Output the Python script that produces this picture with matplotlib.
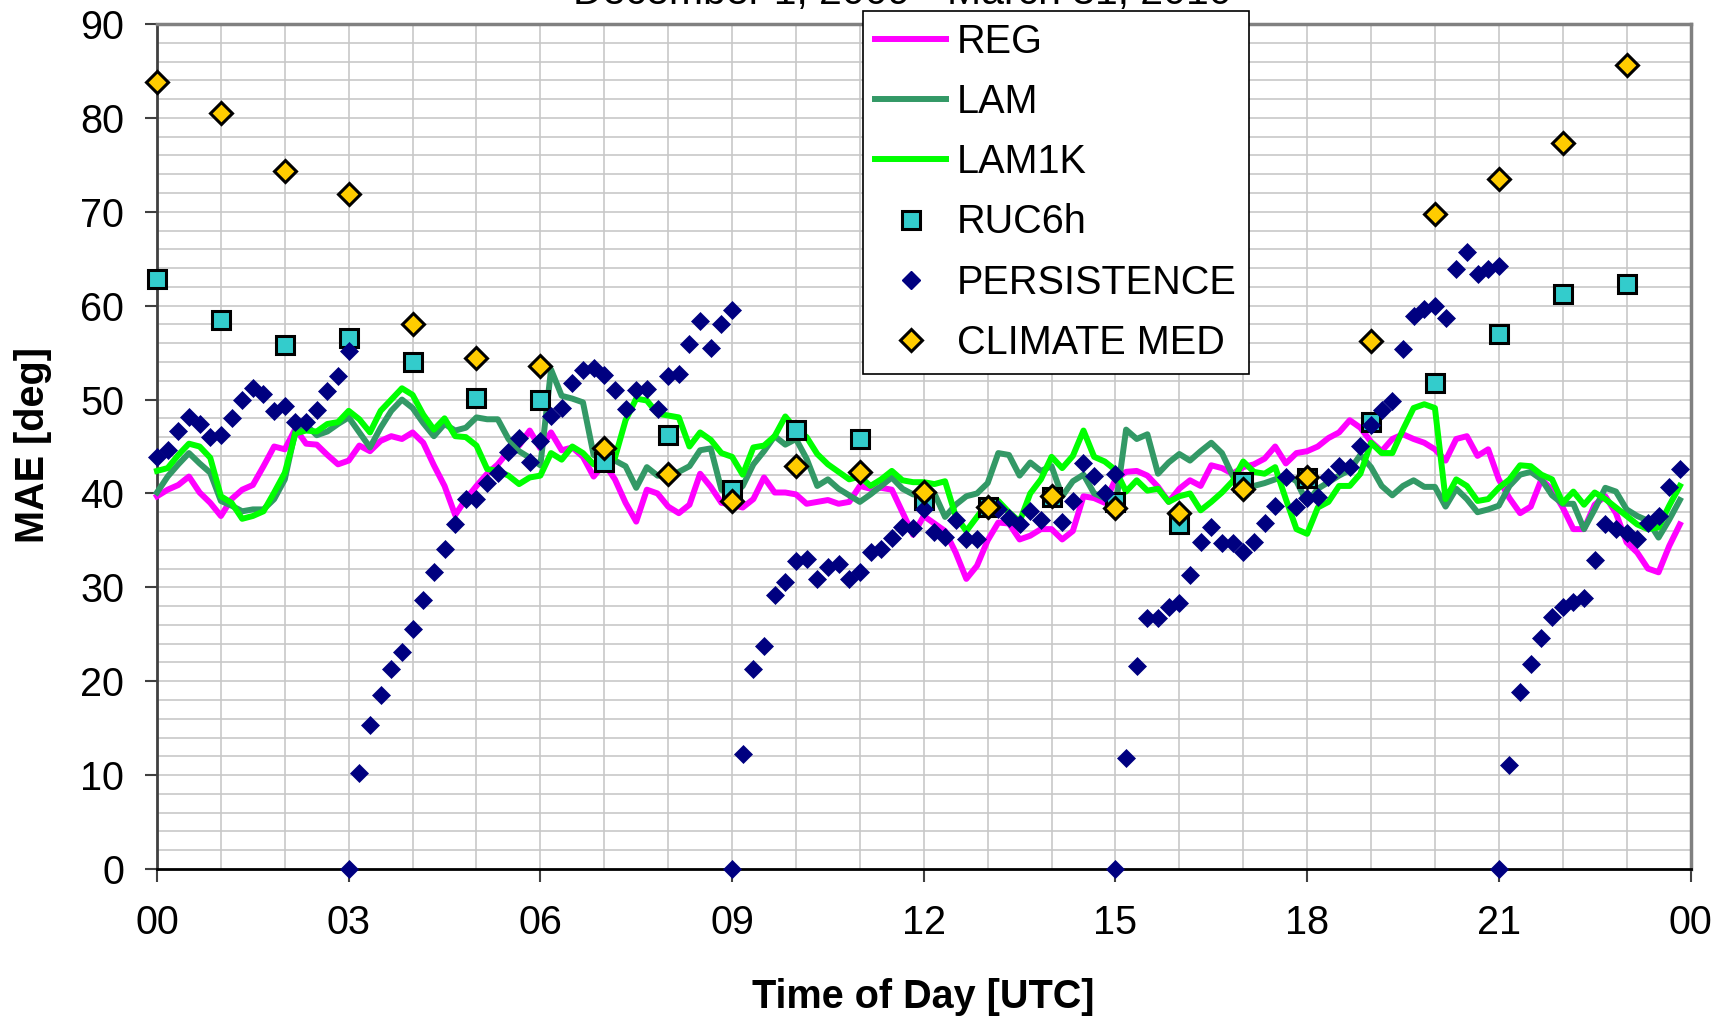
import numpy as np
import matplotlib
matplotlib.use("Agg")
import matplotlib.pyplot as plt
from matplotlib.lines import Line2D

plt.rcParams['font.family'] = ['Liberation Sans', 'DejaVu Sans']

# ---------------- data ----------------
title = "December 1, 2009 - March 31, 2010"
x_label = "Time of Day [UTC]"
y_label = "MAE [deg]"
x_tick_hours = [0, 3, 6, 9, 12, 15, 18, 21, 24]
x_tick_labels = ["00", "03", "06", "09", "12", "15", "18", "21", "00"]
y_ticks = [0, 10, 20, 30, 40, 50, 60, 70, 80, 90]

# 10-minute time steps 00:00 .. 23:50 (hours)
hours = np.arange(144) / 6.0

reg = [39.7, 40.4, 40.9, 41.8, 40.1, 39.0, 37.6, 39.4, 40.4, 40.9, 42.9, 45.0,
       44.7, 46.9, 45.3, 45.2, 44.1, 43.1, 43.5, 45.1, 44.5, 45.6, 46.1, 45.8,
       46.5, 45.4, 43.0, 40.8, 37.7, 39.4, 40.8, 42.1, 43.1, 44.5, 45.1, 46.7,
       44.8, 46.5, 44.6, 44.9, 43.9, 41.8, 43.2, 41.5, 39.0, 37.0, 40.4, 40.0,
       38.6, 37.9, 38.8, 42.1, 40.7, 39.0, 38.8, 38.5, 39.4, 41.7, 40.1, 40.1,
       39.9, 38.9, 39.1, 39.3, 38.9, 39.1, 40.8, 40.5, 40.6, 40.4, 38.0, 35.6,
       37.6, 36.8, 36.0, 33.7, 30.9, 32.3, 35.0, 36.9, 36.8, 35.1, 35.5, 36.2,
       36.2, 35.1, 36.0, 39.7, 39.5, 39.0, 41.5, 42.3, 42.4, 41.9, 40.7, 39.1,
       40.5, 41.4, 40.8, 43.0, 42.7, 42.1, 42.8, 43.1, 43.7, 45.0, 43.2, 44.3,
       44.5, 45.0, 45.9, 46.5, 47.8, 47.0, 45.5, 44.5, 45.8, 46.3, 45.8, 45.4,
       44.7, 43.5, 45.8, 46.1, 44.0, 44.7, 41.5, 39.5, 37.9, 38.6, 41.5, 40.4,
       38.5, 36.2, 36.2, 38.8, 39.7, 37.9, 34.8, 33.7, 32.0, 31.6, 34.4, 36.7]

lam = [40.1, 41.8, 43.1, 44.3, 43.2, 42.2, 39.2, 38.7, 38.1, 38.3, 38.3, 39.4,
       41.5, 46.7, 47.3, 46.2, 46.6, 47.4, 48.1, 46.5, 44.9, 47.0, 48.8, 50.0,
       49.1, 47.5, 46.1, 47.4, 46.7, 47.0, 48.1, 47.9, 47.9, 45.8, 44.5, 43.8,
       43.0, 53.2, 50.4, 50.1, 49.7, 44.1, 43.5, 43.5, 42.9, 40.6, 42.8, 41.9,
       41.9, 42.3, 42.9, 44.6, 44.8, 40.4, 39.7, 40.8, 43.1, 44.5, 46.1, 45.2,
       45.8, 43.7, 40.8, 41.5, 40.5, 39.8, 39.1, 39.9, 40.8, 41.7, 40.5, 39.9,
       39.8, 40.0, 37.5, 38.8, 39.7, 40.0, 41.1, 44.3, 44.1, 41.9, 43.3, 42.4,
       42.9, 39.7, 41.3, 42.0, 40.0, 39.5, 38.5, 46.8, 45.8, 46.3, 42.1, 43.3,
       44.2, 43.5, 44.5, 45.4, 44.3, 41.9, 40.8, 40.8, 41.1, 41.5, 42.0, 41.3,
       39.0, 40.5, 41.2, 41.9, 42.5, 44.1, 42.8, 40.8, 39.8, 40.8, 41.4, 40.7,
       40.7, 38.6, 40.5, 39.4, 38.0, 38.3, 38.7, 40.8, 42.0, 42.3, 41.5, 39.8,
       38.9, 38.9, 36.2, 38.3, 40.6, 40.2, 38.3, 37.6, 37.1, 35.3, 37.2, 39.3]

lam1k = [42.4, 42.7, 44.1, 45.3, 45.0, 43.8, 39.7, 39.0, 37.3, 37.6, 38.1, 40.1,
         42.2, 46.4, 46.7, 46.6, 47.4, 47.6, 48.8, 47.9, 46.5, 48.8, 50.0, 51.2,
         50.5, 48.4, 46.8, 48.0, 46.1, 46.0, 45.1, 42.6, 42.4, 41.9, 41.0, 41.7,
         41.9, 44.3, 43.6, 45.0, 44.3, 43.1, 43.3, 43.8, 47.8, 50.1, 49.9, 48.5,
         48.3, 48.1, 45.0, 46.5, 45.7, 44.3, 43.9, 42.0, 44.9, 45.1, 46.1, 48.2,
         46.8, 46.0, 44.2, 43.1, 42.3, 41.5, 41.8, 40.8, 41.5, 42.4, 41.4, 41.2,
         41.2, 41.0, 41.3, 37.6, 36.0, 37.5, 39.0, 39.2, 38.0, 37.0, 40.0, 41.5,
         43.9, 42.7, 44.0, 46.7, 43.9, 43.4, 42.5, 40.2, 41.4, 40.3, 40.5, 39.1,
         39.7, 40.0, 38.2, 39.1, 40.1, 41.3, 43.4, 42.3, 42.1, 42.8, 39.4, 36.2,
         35.7, 38.5, 39.1, 40.8, 40.8, 42.1, 45.4, 44.3, 44.3, 46.8, 49.1, 49.5,
         49.1, 39.4, 41.5, 40.8, 39.2, 39.4, 40.6, 41.5, 43.0, 42.9, 42.0, 41.5,
         39.0, 40.2, 38.8, 40.1, 39.4, 38.5, 37.6, 36.7, 36.2, 36.4, 38.7, 40.8]

persistence = [43.9, 44.6, 46.6, 48.1, 47.4, 46.0, 46.2, 48.0, 49.9, 51.2, 50.6, 48.8,
               49.3, 47.6, 47.6, 48.9, 50.9, 52.5,
               0.0, 10.2, 15.3, 18.5, 21.3, 23.1, 25.6, 28.6, 31.6, 34.1, 36.7, 39.4,
               39.4, 41.1, 42.2, 44.4, 45.9, 43.4, 45.6, 48.2, 49.1, 51.8, 53.2, 53.4,
               52.6, 51.0, 49.0, 51.0, 51.1, 49.0, 52.5, 52.7, 55.9, 58.4, 55.5, 58.0,
               0.0, 12.3, 21.3, 23.7, 29.2, 30.6, 32.8, 33.0, 30.9, 32.2, 32.5, 30.9,
               31.6, 33.8, 34.1, 35.3, 36.4, 36.3, 38.3, 35.9, 35.4, 37.2, 35.2, 35.2,
               38.3, 38.3, 37.4, 36.7, 38.1, 37.2, 39.5, 37.0, 39.2, 43.2, 41.9, 40.0,
               0.0, 11.8, 21.6, 26.7, 26.7, 27.9, 28.3, 31.3, 34.8, 36.4, 34.7, 34.7,
               33.8, 34.8, 36.9, 38.7, 41.7, 38.6, 39.5, 39.6, 41.7, 42.9, 42.8, 45.1,
               47.3, 48.9, 49.8, 55.4, 58.9, 59.6, 60.0, 58.7, 63.9, 65.7, 63.4, 63.9,
               0.0, 11.1, 18.9, 21.8, 24.6, 26.8, 27.9, 28.4, 28.9, 32.9, 36.7, 36.2,
               35.8, 35.1, 36.9, 37.6, 40.7, 42.6]
# last value of each 6-hour persistence cycle (plotted at the cycle end hour)
persistence_end_hours = [3, 9, 15, 21]
persistence_end_values = [55.2, 59.5, 42.1, 64.2]

# hourly values
hourly = np.arange(24)
ruc6h = [62.8, 58.5, 55.8, 56.6, 54.0, 50.2, 50.0, 43.3, 46.2, 40.4, 46.8, 45.8,
         39.3, 38.6, 39.6, 39.1, 36.7, 41.2, 41.6, 47.6, 51.8, 57.0, 61.2, 62.3]
climate_med = [83.8, 80.5, 74.3, 71.9, 58.1, 54.4, 53.6, 44.8, 42.1, 39.2, 42.9, 42.3,
               40.2, 38.6, 39.7, 38.4, 37.9, 40.5, 41.8, 56.2, 69.8, 73.5, 77.3, 85.6]

# ---------------- styles ----------------
c_reg = '#FF00FF'
c_lam = '#339966'
c_lam1k = '#00FF00'
c_ruc = '#33CCCC'
c_pers = '#000080'
c_clim = '#FFCC00'
FS = 28.5

fig = plt.figure(figsize=(17.24, 10.21), dpi=100)
ax = fig.add_axes([0.09107, 0.14887, 0.8895, 0.82762])

ax.set_xlim(0, 24)
ax.set_ylim(0, 90)

# grid
for h in range(1, 24):
    ax.axvline(h, color='#C8C8C8', lw=1.2, zorder=0)
for v in range(2, 90, 2):
    ax.axhline(v, color='#C8C8C8', lw=1.2, zorder=0)

lw = 4.3
ms_ruc = 13.5
ms_pers = 9.0
ms_clim = 11.5
ax.plot(hours, reg, color=c_reg, lw=lw, zorder=3, clip_on=False, solid_joinstyle='round')
ax.plot(hours, lam, color=c_lam, lw=lw, zorder=4, clip_on=False, solid_joinstyle='round')
ax.plot(hours, lam1k, color=c_lam1k, lw=lw, zorder=5, clip_on=False, solid_joinstyle='round')
ax.plot(hourly, ruc6h, ls='none', marker='s', ms=ms_ruc, mfc=c_ruc, mec='black', mew=2.2,
        zorder=6, clip_on=False)
ax.plot(hours, persistence, ls='none', marker='D', ms=ms_pers, mfc=c_pers, mec=c_pers, mew=0.5,
        zorder=7, clip_on=False)
ax.plot(persistence_end_hours, persistence_end_values, ls='none', marker='D', ms=ms_pers,
        mfc=c_pers, mec=c_pers, mew=0.5, zorder=7, clip_on=False)
ax.plot(hourly, climate_med, ls='none', marker='D', ms=ms_clim, mfc=c_clim, mec='black', mew=2.2,
        zorder=8, clip_on=False)

# axes styling
ax.set_xticks(x_tick_hours)
ax.set_xticklabels(x_tick_labels)
ax.set_yticks(y_ticks)
ax.tick_params(axis='both', labelsize=FS, direction='out', color='#404040', width=1.5)
ax.tick_params(axis='y', length=8.5, pad=15)
ax.tick_params(axis='x', length=9, pad=16)
ax.spines['left'].set_color('#404040')
ax.spines['left'].set_linewidth(2)
ax.spines['bottom'].set_color('black')
ax.spines['bottom'].set_linewidth(2)
ax.spines['top'].set_color('#808080')
ax.spines['top'].set_linewidth(2.5)
ax.spines['right'].set_color('#808080')
ax.spines['right'].set_linewidth(2.5)

fig.text(33 / 1724, 1 - 445 / 1021, y_label, rotation=90, ha='center', va='center',
         fontsize=FS, fontweight='bold')
fig.text(923 / 1724, 1 - 997 / 1021, x_label, ha='center', va='center',
         fontsize=FS, fontweight='bold')
fig.text(902 / 1724, 1 - 4 / 1021, title, ha='center', va='baseline', fontsize=29.5)

handles = [
    Line2D([], [], color=c_reg, lw=lw),
    Line2D([], [], color=c_lam, lw=lw),
    Line2D([], [], color=c_lam1k, lw=lw),
    Line2D([], [], ls='none', marker='s', ms=ms_ruc, mfc=c_ruc, mec='black', mew=2.2),
    Line2D([], [], ls='none', marker='D', ms=ms_pers, mfc=c_pers, mec=c_pers),
    Line2D([], [], ls='none', marker='D', ms=ms_clim, mfc=c_clim, mec='black', mew=2.2),
]
labels = ["REG", "LAM", "LAM1K", "RUC6h", "PERSISTENCE", "CLIMATE MED"]
leg = fig.legend(handles, labels, loc='upper left',
                 bbox_to_anchor=(863 / 1724, 1 - 11 / 1021),
                 fontsize=FS, frameon=True, fancybox=False, framealpha=1,
                 edgecolor='black', borderpad=0.3, labelspacing=0.56,
                 handlelength=1.8, handletextpad=0.28, borderaxespad=0,
                 numpoints=1)
leg.get_frame().set_linewidth(1.2)
leg.set_zorder(20)

fig.savefig("out.png", dpi=100)
